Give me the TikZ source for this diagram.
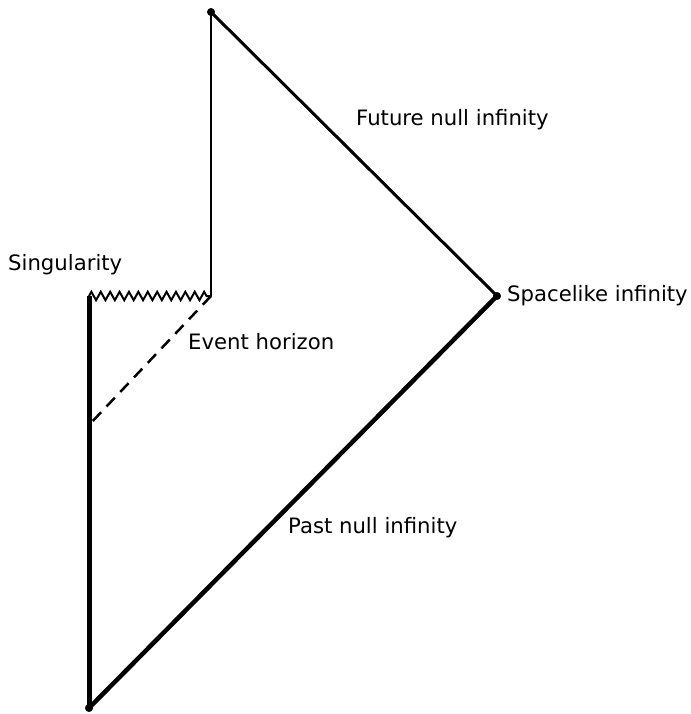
\documentclass[tikz,border=0pt]{standalone}
\usepackage{fontspec}
\setmainfont{DejaVu Sans}
\usetikzlibrary{decorations.pathmorphing}
\tikzset{
    dot/.style={circle, fill, draw, inner sep=0pt, minimum size=7.5pt}
}
\tikzset{
    lbl/.style={anchor=west, inner sep=0pt, font=\fontsize{21.2}{25}\selectfont}
}
\tikzset{
    sing/.style={line width=2pt, decorate,
    	decoration={zigzag, segment length=9.4pt, amplitude=4.2pt}}
}

\begin{document}
\begin{tikzpicture}[x=1pt, y=-1pt]
	\useasboundingbox (0,0) rectangle (690,714);
	\node (ip) [dot] at (211, 12) {};
	\node (i0) [dot] at (497, 296) {};
	\node (im) [dot] at (89, 708) {};
	\coordinate (sl) at (89, 296);
	\coordinate (sr) at (211, 296);
	\coordinate (eh) at (89, 425);

	\node (fut) [lbl] at (356, 120) {Future null infinity};
	\node (sng) [lbl] at (8, 265) {Singularity};
	\node (spc) [lbl] at (507, 296) {Spacelike infinity};
	\node (evt) [lbl] at (188, 342) {Event horizon};
	\node (pst) [lbl] at (288, 528) {Past null infinity};

	\draw [line width=2pt] (ip.center) -- (sr);
	\draw [line width=3pt] (ip.center) -- (i0.center);
	\draw [line width=4.5pt] (i0.center) -- (im.center);
	\draw [line width=5pt] (im.center) -- (sl);
	\draw [sing] (sl) -- (sr);
	\draw [line width=2.5pt, dash pattern=on 12pt off 8pt] (sr) -- (eh);
\end{tikzpicture}
\end{document}
